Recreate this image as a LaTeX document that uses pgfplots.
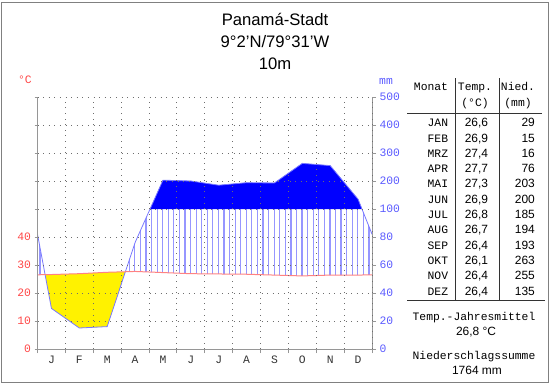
\documentclass[border=0pt]{standalone}
\usepackage{fontspec}
\setmainfont{Liberation Sans}
\setmonofont{Liberation Mono}
\usepackage{pgfplots}
\usepackage{pgfplotstable}
\pgfplotsset{compat=1.18}
\usepgfplotslibrary{fillbetween}
\usetikzlibrary{patterns}

\definecolor{tempred}{RGB}{255,130,130}
\definecolor{precblue}{RGB}{120,120,255}
\definecolor{hatchblue}{RGB}{150,150,255}
\definecolor{labred}{RGB}{255,70,70}
\definecolor{labblue}{RGB}{90,90,255}
\definecolor{axisgray}{RGB}{150,150,150}
\definecolor{gridgray}{RGB}{110,110,110}

\pgfdeclarepatternformonly{vlines}{\pgfpointorigin}{\pgfqpoint{2bp}{100bp}}{\pgfqpoint{5.575bp}{100bp}}{%
  \pgfsetlinewidth{1.2bp}\pgfpathmoveto{\pgfqpoint{1bp}{0bp}}\pgfpathlineto{\pgfqpoint{1bp}{100bp}}\pgfusepath{stroke}}

% x: month position (0..12), T: temperature/10, P: precipitation on display scale
% (P<=100 mm: P/20 ; P>100 mm: 5+(P-100)/100)
\pgfplotstableread{
x     T     P
0     2.65  4.10
0.5   2.66  1.45
1.5   2.69  0.75
2.5   2.74  0.80
3.5   2.77  3.80
4.5   2.73  6.03
5.5   2.69  6.00
6.5   2.68  5.85
7.5   2.67  5.94
8.5   2.64  5.93
9.5   2.61  6.63
10.5  2.64  6.55
11.5  2.64  5.35
12    2.65  4.10
}\climate

\newcommand{\mono}{\ttfamily\fontsize{11.4}{13}\selectfont}
\newcommand{\sans}{\fontsize{12}{14}\selectfont}

\begin{document}
\begin{tikzpicture}
\begin{axis}[
  at={(37.5bp,35bp)}, anchor=south west,
  scale only axis, width=334.5bp, height=252bp,
  xmin=0, xmax=12, ymin=0, ymax=9,
  axis x line*=bottom, axis y line*=left,
  axis line style={-, draw=axisgray, line width=1bp},
  axis on top,
  tick align=outside,
  xtick={0.5,1.5,...,11.5},
  xticklabels={J,F,M,A,M,J,J,A,S,O,N,D},
  major x tick style={draw=none},
  minor xtick={0,1,...,12},
  minor tick length=4bp,
  major tick length=3bp,
  xminorgrids, ymajorgrids,
  ytick={0,1,...,9},
  yticklabels={0,10,20,30,40,,,,,},
  tick style={draw=axisgray, line width=1bp},
  grid style={draw=gridgray, dash pattern=on 0.9bp off 4.7bp, line width=0.9bp},
  xticklabel style={font=\mono, text=black!80},
  yticklabel style={font=\mono, text=labred},
]
\addplot[name path=P, draw=none] table[x=x,y=P]{\climate};
\addplot[name path=T, draw=none] table[x=x,y=T]{\climate};
\addplot[name path=L5, draw=none] coordinates {(0,5) (12,5)};
\addplot[draw=none, fill=none] fill between[of=P and T, split,
   every segment no 0/.style={pattern=vlines, pattern color=hatchblue},
   every segment no 1/.style={fill=yellow},
   every segment no 2/.style={pattern=vlines, pattern color=hatchblue}];
\addplot[draw=none, fill=none] fill between[of=P and L5, split,
   every segment no 1/.style={fill=blue}];
\addplot[precblue, line width=0.8bp] table[x=x,y=P]{\climate};
\addplot[tempred, line width=1bp] table[x=x,y=T]{\climate};
\end{axis}

\begin{axis}[
  at={(37.5bp,35bp)}, anchor=south west,
  scale only axis, width=334.5bp, height=252bp,
  xmin=0, xmax=12, ymin=0, ymax=9,
  axis x line=none, axis y line*=right,
  axis line style={-, draw=axisgray, line width=1bp},
  tick align=outside,
  major tick length=4bp,
  ytick={0,1,...,9},
  yticklabels={0,20,40,60,80,100,200,300,400,500},
  tick style={draw=axisgray, line width=1bp},
  yticklabel style={font=\mono, text=labblue},
]
\addplot[draw=none] coordinates {(0,0)};
\end{axis}

\begin{scope}[x=1bp,y=1bp]
\draw[gray, line width=1.5bp] (1.5,1.5) rectangle (548.5,381.5);
% axis units
\node[font=\mono, text=labred] at (25,304) {°C};
\node[font=\mono, text=labblue] at (386,303) {mm};

% title
\node[anchor=base, font=\fontsize{16.7}{18}\selectfont] at (275,359) {Panamá-Stadt};
\node[anchor=base, font=\fontsize{16.7}{18}\selectfont] at (275,337) {9°2'N/79°31'W};
\node[anchor=base, font=\fontsize{16.7}{18}\selectfont] at (275,315) {10m};

% table
\draw[black!80, line width=1bp] (455.7,306) -- (455.7,84);
\draw[black!80, line width=1bp] (499.3,306) -- (499.3,84);
\draw[black!80, line width=1bp] (407,270.7) -- (542,270.7);
\draw[black!80, line width=1bp] (407,84) -- (545,84);
\node[anchor=base, font=\mono] at (431,293.3) {Monat};
\node[anchor=base, font=\mono] at (475,293.3) {Temp.};
\node[anchor=base, font=\mono] at (475,278) {(°C)};
\node[anchor=base, font=\mono] at (518,293.3) {Nied.};
\node[anchor=base, font=\mono] at (518,278) {(mm)};
\foreach \m/\t/\p [count=\i from 0] in {JAN/26{,}6/29, FEB/26{,}9/15, MRZ/27{,}4/16, APR/27{,}7/76, MAI/27{,}3/203, JUN/26{,}9/200, JUL/26{,}8/185, AUG/26{,}7/194, SEP/26{,}4/193, OKT/26{,}1/263, NOV/26{,}4/255, DEZ/26{,}4/135}{
  \pgfmathsetmacro{\yy}{257.3-15.31*\i}
  \node[anchor=base east, inner sep=0pt, font=\mono] at (448.3,\yy) {\m};
  \node[anchor=base east, inner sep=0pt, font=\sans] at (488.3,\yy) {\t};
  \node[anchor=base east, inner sep=0pt, font=\sans] at (535,\yy) {\p};
}
\node[anchor=base, font=\mono] at (474,64) {Temp.-Jahresmittel};
\node[anchor=base, font=\sans] at (476,49) {26,8 °C};
\node[anchor=base, font=\mono] at (474,24.7) {Niederschlagssumme};
\node[anchor=base, font=\sans] at (477,10) {1764 mm};

\pgfresetboundingbox
\useasboundingbox (0,0) rectangle (550,384);
\end{scope}
\end{tikzpicture}
\end{document}
